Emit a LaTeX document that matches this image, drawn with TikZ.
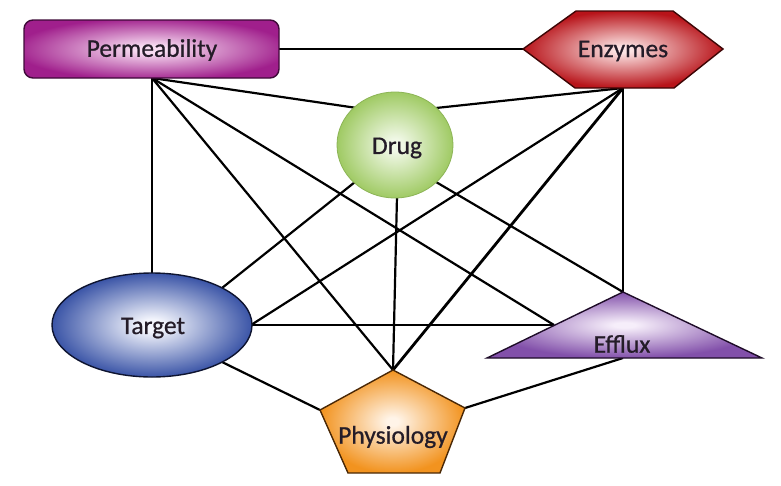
\documentclass[tikz,border=0pt]{standalone}
\usepackage{fontspec}
\setmainfont[FakeBold=0.7]{Carlito}
\usetikzlibrary{shapes.geometric}
\definecolor{permin}{HTML}{F8DDF2}\definecolor{permout}{HTML}{A01F8C}\definecolor{permline}{HTML}{3E0A38}
\definecolor{enzin}{HTML}{FCE4E4}\definecolor{enzout}{HTML}{B8141A}\definecolor{enzline}{HTML}{3E0606}
\definecolor{drugin}{HTML}{F0F8E6}\definecolor{drugout}{HTML}{9CC85E}\definecolor{drugline}{HTML}{8CB456}
\definecolor{tarin}{HTML}{F2F4FC}\definecolor{tarout}{HTML}{2A469F}\definecolor{tarline}{HTML}{0E1430}
\definecolor{phyin}{HTML}{FFF4E8}\definecolor{phyout}{HTML}{F2931F}\definecolor{phyline}{HTML}{4A2806}
\definecolor{effin}{HTML}{F6EEFA}\definecolor{effout}{HTML}{8250AA}\definecolor{effline}{HTML}{1E0C28}
\definecolor{txt}{HTML}{241C28}
\pgfdeclareradialshading{permglow}{\pgfpoint{0bp}{0bp}}{color(0bp)=(permin); color(3bp)=(permin); color(27bp)=(permout); color(50bp)=(permout)}
\pgfdeclareradialshading{enzglow}{\pgfpoint{0bp}{0bp}}{color(0bp)=(enzin); color(2bp)=(enzin); color(25bp)=(enzout); color(50bp)=(enzout)}
\pgfdeclareradialshading{drugglow}{\pgfpoint{0bp}{0bp}}{color(0bp)=(drugin); color(3bp)=(drugin); color(26bp)=(drugout); color(50bp)=(drugout)}
\pgfdeclareradialshading{targlow}{\pgfpoint{0bp}{0bp}}{color(0bp)=(tarin); color(3bp)=(tarin); color(27bp)=(tarout); color(50bp)=(tarout)}
\pgfdeclareradialshading{phyglow}{\pgfpoint{0bp}{0bp}}{color(0bp)=(phyin); color(2bp)=(phyin); color(25bp)=(phyout); color(50bp)=(phyout)}
\pgfdeclareradialshading{effglow}{\pgfpoint{0bp}{0bp}}{color(0bp)=(effin); color(2bp)=(effin); color(25bp)=(effout); color(50bp)=(effout)}
\tikzset{
  link/.style={line width=2.2pt, black},
  label/.style={font=\fontsize{25.5}{27}\selectfont, text=txt, inner sep=0pt},
  outline/.style={line width=1.4pt}
}
\begin{document}
\begin{tikzpicture}[x=1pt,y=-1pt]
\useasboundingbox (0,0) rectangle (781,485);
% attachment points
\coordinate (permS) at (152,78);
\coordinate (permE) at (279,49);
\coordinate (enzW) at (523,49);
\coordinate (enzS) at (623,88);
\coordinate (drugNW) at (357,108);
\coordinate (drugNE) at (436,108);
\coordinate (drugSW) at (355,182);
\coordinate (drugS) at (397,196);
\coordinate (drugSE) at (436,182);
\coordinate (tarN) at (152,274);
\coordinate (tarE) at (251,325);
\coordinate (tarNE) at (222,288);
\coordinate (tarSE) at (222,362);
\coordinate (phyT) at (393,370);
\coordinate (phyL) at (320,410);
\coordinate (phyR) at (465,408);
\coordinate (effT) at (623,292);
\coordinate (effW) at (554,325);
\coordinate (effB) at (623,358);
% connectors
\draw[link] (permE) -- (enzW);
\draw[link] (permS) -- (drugNW);
\draw[link] (permS) -- (tarN);
\draw[link] (permS) -- (phyT);
\draw[link] (permS) -- (effW);
\draw[link] (enzS) -- (drugNE);
\draw[link] (enzS) -- (tarE);
\draw[link, line width=2.8pt] (enzS) -- (phyT);
\draw[link] (enzS) -- (effT);
\draw[link] (drugSW) -- (tarNE);
\draw[link] (drugS) -- (phyT);
\draw[link] (drugSE) -- (effT);
\draw[link] (tarE) -- (effW);
\draw[link] (tarSE) -- (phyL);
\draw[link] (phyR) -- (effB);
% shapes
\node[draw=permline, outline, rectangle, rounded corners=9pt, shade, shading=permglow,
      minimum width=255pt, minimum height=58pt, inner sep=0pt] (perm) at (151.5,49) {};
\shadedraw[draw=enzline, outline, shading=enzglow] (523,49) -- (576,11) -- (673,11) -- (723,49) -- (674,88) -- (575,88) -- cycle;
\node[draw=drugline, line width=0.8pt, ellipse, shade, shading=drugglow,
      minimum width=116pt, minimum height=106pt, inner sep=0pt] (drug) at (395,145) {};
\node[draw=tarline, outline, ellipse, shade, shading=targlow,
      minimum width=200pt, minimum height=104pt, inner sep=0pt] (target) at (152,325) {};
\shadedraw[draw=phyline, outline, shading=phyglow] (393,370) -- (465,408) -- (440,473) -- (348,473) -- (320,410) -- cycle;
\shadedraw[draw=effline, outline, shading=effglow] (623,292) -- (762,358) -- (487,358) -- cycle;
% labels
\node[label] (permT) at (152,50) {Permeability};
\node[label] (enz) at (623,51) {Enzymes};
\node[label] (drugT) at (397,148) {Drug};
\node[label] (tarT) at (153,328) {Target};
\node[label] (phy) at (393,437) {Physiology};
\node[label] (eff) at (622,344) {Efflux};
\end{tikzpicture}
\end{document}
